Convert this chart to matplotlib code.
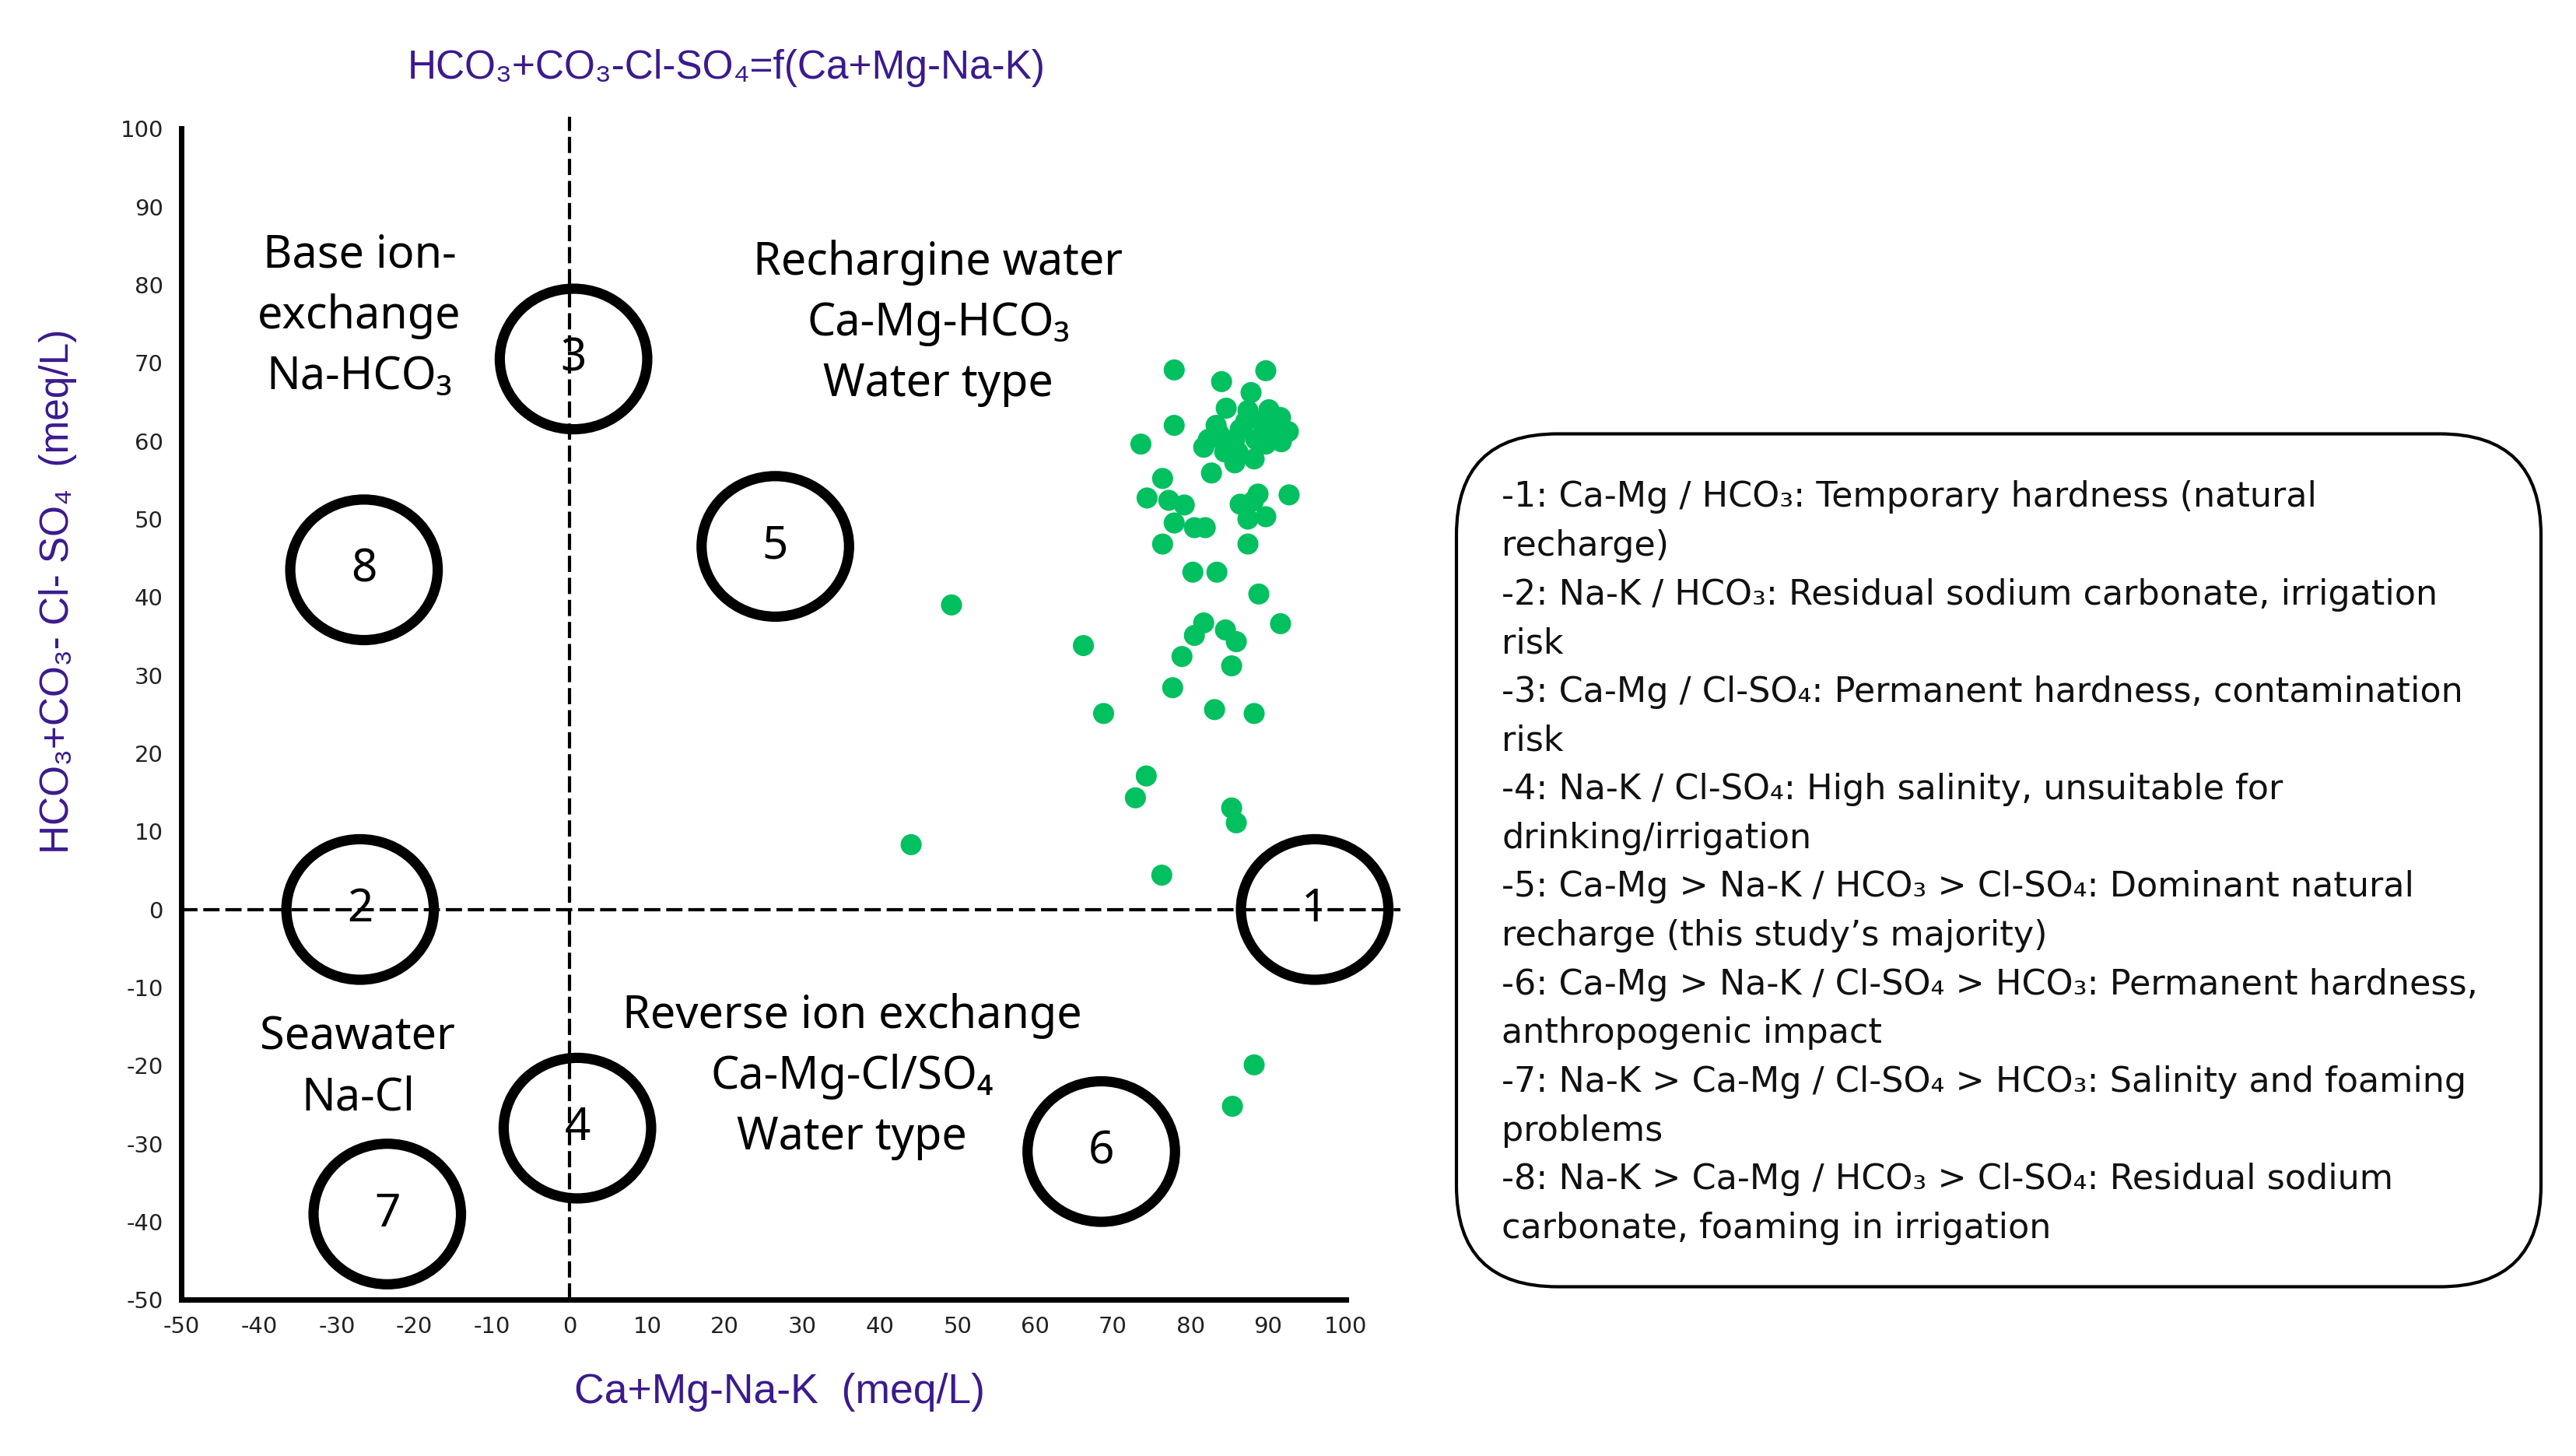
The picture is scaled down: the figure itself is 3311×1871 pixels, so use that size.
import matplotlib

matplotlib.use("Agg")
import matplotlib.pyplot as plt
from matplotlib.patches import Ellipse, FancyBboxPatch

plt.rcParams["axes.unicode_minus"] = False

# --- sample points: (Ca+Mg-Na-K, HCO3+CO3-Cl-SO4), meq/L ---
CATION_DIFF = [
    77.9, 89.7, 84.0, 87.8, 84.6, 87.4, 90.1, 91.6, 77.9, 83.3, 92.6, 73.6,
    81.7, 85.7, 88.4, 84.4, 89.7, 91.7, 88.2, 85.7, 82.7, 86.4, 83.7, 90.4,
    87.1, 82.3, 91.1, 86.1, 89.1,
    76.4, 74.4, 77.2, 79.2, 77.9, 80.5, 81.9, 76.4, 88.7, 88.1, 86.4, 87.4,
    89.7, 92.7, 87.4,
    80.3, 83.4, 88.8, 49.2, 81.7, 91.6, 80.5, 84.5, 85.9, 66.2, 78.9, 85.3,
    77.7, 68.8, 83.1, 88.2, 74.3, 72.9, 85.3, 85.9, 44.0, 76.3,
    88.2, 85.4,
]
ANION_DIFF = [
    69.1, 69.0, 67.6, 66.2, 64.2, 63.9, 64.0, 63.0, 62.0, 62.0, 61.2, 59.6,
    59.2, 60.2, 60.2, 58.6, 59.6, 59.9, 57.7, 57.2, 55.9, 61.5, 60.9, 61.9,
    62.5, 60.2, 61.2, 58.6, 62.5,
    55.2, 52.7, 52.4, 51.8, 49.5, 48.9, 48.9, 46.8, 53.2, 52.3, 51.9, 50.0,
    50.3, 53.1, 46.8,
    43.2, 43.2, 40.4, 39.0, 36.7, 36.6, 35.1, 35.8, 34.3, 33.8, 32.4, 31.2,
    28.4, 25.1, 25.6, 25.1, 17.1, 14.3, 13.0, 11.1, 8.3, 4.4,
    -19.9, -25.2,
]

# --- numbered zones ---
ZONE_IDS = ["1", "2", "3", "4", "5", "6", "7", "8"]
ZONE_X = [96.0, -27.0, 0.5, 1.0, 26.5, 68.5, -23.5, -26.5]
ZONE_Y = [0.0, 0.0, 70.5, -28.0, 46.5, -31.0, -39.0, 43.5]

# --- water-type captions ---
REGION_TEXT = [
    "Base ion-\nexchange\nNa-HCO\u2083",
    "Rechargine water\nCa-Mg-HCO\u2083\nWater type",
    "Seawater\nNa-Cl",
    "Reverse ion exchange\nCa-Mg-Cl/SO\u2084\nWater type",
]
REGION_X = [-27.1, 47.5, -27.3, 36.4]
REGION_Y = [76.0, 75.1, -20.3, -21.4]

X_TICKS = list(range(-50, 101, 10))
Y_TICKS = list(range(-50, 101, 10))

TITLE = "HCO\u2083+CO\u2083-Cl-SO\u2084=f(Ca+Mg-Na-K)"
X_LABEL = "Ca+Mg-Na-K  (meq/L)"
Y_LABEL = "HCO\u2083+CO\u2083- Cl- SO\u2084  (meq/L)"

LEGEND_LINES = [
    "-1: Ca-Mg / HCO\u2083: Temporary hardness (natural",
    "recharge)",
    "-2: Na-K / HCO\u2083: Residual sodium carbonate, irrigation",
    "risk",
    "-3: Ca-Mg / Cl-SO\u2084: Permanent hardness, contamination",
    "risk",
    "-4: Na-K / Cl-SO\u2084: High salinity, unsuitable for",
    "drinking/irrigation",
    "-5: Ca-Mg > Na-K / HCO\u2083 > Cl-SO\u2084: Dominant natural",
    "recharge (this study\u2019s majority)",
    "-6: Ca-Mg > Na-K / Cl-SO\u2084 > HCO\u2083: Permanent hardness,",
    "anthropogenic impact",
    "-7: Na-K > Ca-Mg / Cl-SO\u2084 > HCO\u2083: Salinity and foaming",
    "problems",
    "-8: Na-K > Ca-Mg / HCO\u2083 > Cl-SO\u2084: Residual sodium",
    "carbonate, foaming in irrigation",
]

PURPLE = "#3b1a8e"
GREEN = "#00c05f"
LABEL_FONT = ["Liberation Sans", "DejaVu Sans"]
CAPTION_FONT = ["Noto Sans", "DejaVu Sans"]

fig = plt.figure(figsize=(33.11, 18.71), dpi=100)
ax = fig.add_axes([0.0705, 0.1072, 0.4730, 0.8125])

ax.set_xlim(-50, 107)
ax.set_ylim(-50, 101.5)

for side in ("top", "right"):
    ax.spines[side].set_visible(False)
for side in ("left", "bottom"):
    ax.spines[side].set_linewidth(5)
    ax.spines[side].set_capstyle("projecting")
ax.spines["left"].set_bounds(-50, 100)
ax.spines["bottom"].set_bounds(-50, 100)

ax.set_xticks(X_TICKS)
ax.set_yticks(Y_TICKS)
ax.tick_params(axis="both", length=0, labelsize=21, labelcolor="#222222")
ax.tick_params(axis="x", pad=15)
ax.tick_params(axis="y", pad=17)

ax.axhline(0, color="black", lw=3, ls=(0, (5, 1.8)), zorder=1)
ax.axvline(0, color="black", lw=3, ls=(0, (5, 1.8)), zorder=1)

ax.scatter(CATION_DIFF, ANION_DIFF, s=380, color=GREEN, edgecolors="none", zorder=3)

for zid, zx, zy in zip(ZONE_IDS, ZONE_X, ZONE_Y):
    ax.add_patch(Ellipse((zx, zy), width=19, height=18, fill=False,
                         edgecolor="black", lw=9.5, zorder=4, clip_on=False))
    ax.text(zx, zy, zid, ha="center", va="center", fontsize=42,
            family=CAPTION_FONT, zorder=5)

for txt, rx, ry in zip(REGION_TEXT, REGION_X, REGION_Y):
    ax.text(rx, ry, txt, ha="center", va="center", fontsize=41.5,
            family=CAPTION_FONT, linespacing=1.42, zorder=5)

fig.text(0.282, 0.9535, TITLE, ha="center", va="center", fontsize=37,
         color=PURPLE, family=LABEL_FONT)
fig.text(0.3025, 0.0437, X_LABEL, ha="center", va="center", fontsize=38.5,
         color=PURPLE, family=LABEL_FONT)
fig.text(0.0225, 0.594, Y_LABEL, ha="center", va="center", fontsize=37,
         color=PURPLE, family=LABEL_FONT, rotation=90)

# legend box (in inches so the rounded corners stay circular)
box = FancyBboxPatch((18.72, 2.175), 13.94, 10.96,
                     boxstyle="round,pad=0,rounding_size=1.3",
                     transform=fig.dpi_scale_trans, facecolor="white",
                     edgecolor="black", lw=3)
fig.add_artist(box)

y0, dy = 0.6585, 0.03347
for i, line in enumerate(LEGEND_LINES):
    fig.text(0.583, y0 - i * dy, line, ha="left", va="center", fontsize=32,
             color="#111111", family=["DejaVu Sans"])

fig.savefig("out.png", dpi=100)
